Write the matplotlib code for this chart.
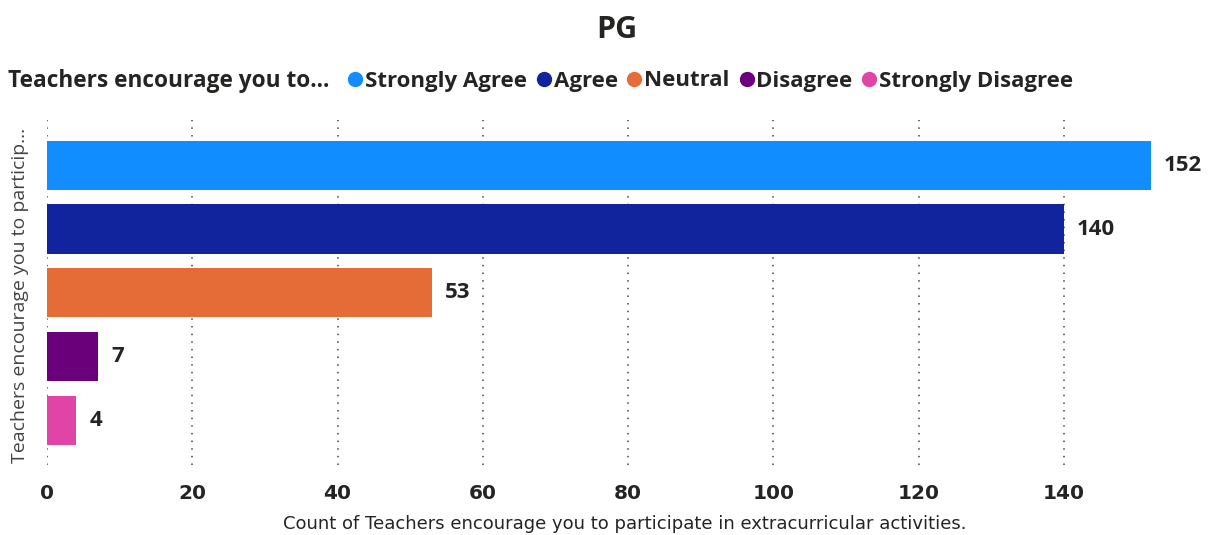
import matplotlib.pyplot as plt
from matplotlib.lines import Line2D

categories = ['Strongly Agree', 'Agree', 'Neutral', 'Disagree', 'Strongly Disagree']
counts = [152, 140, 53, 7, 4]
colors = ['#118DFF', '#12239E', '#E66C37', '#6B007B', '#E044A7']
x_ticks = [0, 20, 40, 60, 80, 100, 120, 140]

TXT = '#252423'
FONT = ['Open Sans', 'DejaVu Sans']

fig = plt.figure(figsize=(12.15, 5.35), dpi=100)
ax = fig.add_axes([47 / 1215, 1 - 465 / 535, 1104 / 1215, 345 / 535])

y = list(range(len(categories)))
ax.barh(y, counts, height=0.77, color=colors, zorder=3)
for yi, v in zip(y, counts):
    ax.text(v + 1.8, yi, str(v), va='center', ha='left', fontsize=16, fontweight='bold',
            color=TXT, family=FONT)

ax.set_xlim(0, 152)
ax.set_ylim(4.7, -0.71)
ax.set_yticks([])
ax.set_xticks(x_ticks)
ax.set_xticklabels([str(t) for t in x_ticks], fontsize=14.5, fontweight='bold', color=TXT)
ax.tick_params(axis='x', length=0, pad=14)
ax.xaxis.grid(True, linestyle=(0, (1, 4)), color='#444444', linewidth=1.1, zorder=0)
for s in ax.spines.values():
    s.set_visible(False)

ax.set_xlabel('Count of Teachers encourage you to participate in extracurricular activities.',
              fontsize=13, color=TXT, va='center')
ax.xaxis.set_label_coords((625 - 47) / 1104, -(524 - 465) / 345)
fig.text(20 / 1215, 1 - 295 / 535, 'Teachers encourage you to particip...', rotation=90,
         va='center', ha='center', fontsize=14, color='#444444', family=FONT)

fig.text(617 / 1215, 1 - 30 / 535, 'PG', ha='center', va='center', fontsize=22,
         fontweight='bold', color=TXT, family=FONT)

fig.text(8 / 1215, 1 - 81 / 535, 'Teachers encourage you to...', ha='left', va='center',
         fontsize=16.3, fontweight='bold', color=TXT, family=FONT)
handles = [Line2D([], [], marker='o', linestyle='none', markersize=10, color=c) for c in colors]
fig.legend(handles, categories, loc='center left', bbox_to_anchor=(325 / 1215, 1 - 81 / 535),
           ncol=5, frameon=False, handletextpad=0.0, columnspacing=0.3, handlelength=0.9,
           prop={'family': FONT, 'weight': 'bold', 'size': 16}, labelcolor=TXT)

fig.savefig('out.png', dpi=100)
